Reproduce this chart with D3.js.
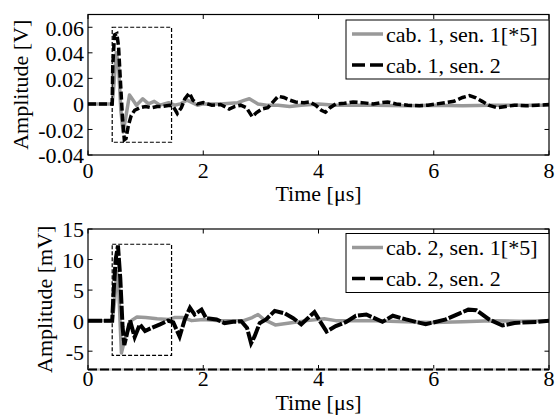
<!DOCTYPE html>
<html>
<head>
<meta charset="utf-8">
<script src="https://cdn.jsdelivr.net/npm/d3@7"></script>
<style>
  body { margin: 0; background: #fff; }
  svg text { font-family: 'Liberation Serif', 'Times New Roman', Tinos, 'DejaVu Serif', serif; font-size: 22px; fill: #000; }
</style>
</head>
<body>
<svg id="chart" width="557" height="418" font-family="Liberation Serif"></svg>
<script>
// time axis
var xTicks = [0, 2, 4, 6, 8];

// top panel (cable 1), amplitude in V
var topYTicks = [-0.04, -0.02, 0, 0.02, 0.04, 0.06];
var topYLabels = ['-0.04', '-0.02', '0', '0.02', '0.04', '0.06'];
var topLegend = ['cab. 1, sen. 1[*5]', 'cab. 1, sen. 2'];
var topZoomBox = [0.42, 1.45, -0.03, 0.06];

var topSen1 = [
  [0, 0], [0.42, 0], [0.45, 0.015], [0.49, 0.04], [0.53, 0.03], [0.57, -0.005],
  [0.61, -0.022], [0.65, -0.012], [0.72, 0.007], [0.78, 0.003], [0.84, -0.001],
  [0.95, 0.004], [1.05, 0], [1.15, 0.002], [1.25, -0.001], [1.4, 0.001],
  [1.5, -0.001], [1.6, 0.0], [1.72, 0.003], [1.9, -0.001], [2.0, 0], [2.3, 0],
  [2.6, 0.001], [2.72, 0.003], [2.8, 0.004], [2.95, 0], [3.1, -0.001],
  [3.3, -0.001], [3.5, -0.002], [3.7, -0.001], [4.0, 0], [4.3, -0.001],
  [5.0, -0.001], [5.5, -0.0015], [6.0, -0.001], [6.5, -0.0015], [7.0, -0.001],
  [7.5, -0.001], [8.0, -0.001]
];

var topSen2 = [
  [0, 0], [0.42, 0], [0.43, 0.03], [0.46, 0.054], [0.5, 0.055], [0.53, 0.045],
  [0.56, 0.02], [0.6, -0.012], [0.63, -0.028], [0.66, -0.027], [0.7, -0.017],
  [0.75, -0.009], [0.81, -0.005], [0.9, -0.003], [1.0, -0.002], [1.1, -0.003],
  [1.2, -0.002], [1.3, -0.002], [1.42, -0.001], [1.48, -0.002], [1.55, -0.0075],
  [1.62, -0.003], [1.68, 0.004], [1.76, 0.0085], [1.82, 0.003], [1.9, 0],
  [2.0, 0.001], [2.15, -0.001], [2.3, -0.0005], [2.45, -0.004], [2.55, -0.002],
  [2.65, -0.001], [2.75, -0.003], [2.85, -0.01], [2.92, -0.007], [3.02, -0.004],
  [3.12, -0.003], [3.22, 0.002], [3.3, 0.006], [3.4, 0.005], [3.5, 0.003],
  [3.6, 0.0015], [3.75, 0.001], [3.85, 0.0015], [3.95, -0.001], [4.05, -0.005],
  [4.12, -0.0065], [4.2, -0.003], [4.3, 0], [4.45, 0.0005], [4.6, 0.0015],
  [4.75, 0.001], [4.95, 0], [5.1, 0.001], [5.2, 0.0015], [5.35, 0],
  [5.55, -0.001], [5.75, -0.0015], [5.9, -0.001], [6.05, 0], [6.2, 0.001],
  [6.35, 0.002], [6.5, 0.005], [6.62, 0.0065], [6.72, 0.005], [6.84, 0.002],
  [6.95, -0.001], [7.1, -0.003], [7.25, -0.002], [7.4, -0.001], [7.6, -0.0015],
  [7.8, -0.001], [8.0, -0.0005]
];

// bottom panel (cable 2), amplitude in mV
var botYTicks = [-5, 0, 5, 10, 15];
var botYLabels = ['-5', '0', '5', '10', '15'];
var botLegend = ['cab. 2, sen. 1[*5]', 'cab. 2, sen. 2'];
var botZoomBox = [0.42, 1.45, -5.7, 12.5];

var botSen1 = [
  [0, 0], [0.42, 0], [0.46, 3], [0.5, 8], [0.53, 6], [0.56, -1], [0.58, -5.3],
  [0.64, -3], [0.75, 0], [0.85, 0.6], [1.0, 0.5], [1.2, 0.3], [1.4, 0.2],
  [1.5, 0.5], [1.65, 0.5], [1.8, 0], [2.0, 0.2], [2.3, 0], [2.7, 0],
  [2.85, 0.5], [2.95, 1.0], [3.05, 0.2], [3.25, -0.7], [3.5, -0.4], [3.8, 0],
  [4.1, 0.3], [4.3, 0], [5.0, 0], [5.5, -0.2], [6.0, -0.3], [6.5, -0.2],
  [7.0, 0], [7.5, -0.1], [8.0, 0]
];

var botSen2 = [
  [0, 0], [0.42, 0], [0.44, 4], [0.48, 10], [0.52, 12.3], [0.56, 7], [0.6, -1],
  [0.63, -4.0], [0.68, -2], [0.73, 0], [0.81, -2.7], [0.9, -0.6], [0.99, -1.7],
  [1.1, -1.2], [1.25, -0.6], [1.39, 0], [1.48, -0.3], [1.59, -2.6], [1.68, 0.2],
  [1.77, 2.1], [1.85, 1.0], [1.97, 1.8], [2.05, 0.4], [2.23, 0.2], [2.37, -0.4],
  [2.52, -0.2], [2.66, -0.1], [2.76, -1.2], [2.83, -3.7], [2.89, -2.6],
  [2.98, -0.4], [3.09, 0.2], [3.24, 1.6], [3.41, 1.2], [3.56, 0.4], [3.7, -0.6],
  [3.93, 1.4], [4.02, 0], [4.14, -1.8], [4.3, -0.9], [4.48, -0.2], [4.65, 0.8],
  [4.83, 1.0], [5.11, -0.2], [5.29, 0.8], [5.52, 0.2], [5.86, -0.6], [6.21, 0.2],
  [6.45, 1.2], [6.6, 1.8], [6.74, 1.7], [6.96, 0.2], [7.19, -0.8], [7.4, -0.4],
  [7.54, -0.3], [7.8, -0.2], [8.0, 0]
];

var grey = '#999999';

var svg = d3.select('#chart');

var drawPanel = function (opts) {
  var left = 88, right = 549;
  var x = d3.scaleLinear().domain([0, 8]).range([left, right]);
  var y = d3.scaleLinear().domain(opts.yDomain).range([opts.bottom, opts.top]);
  var g = svg.append('g');

  g.append('clipPath').attr('id', opts.id + 'clip')
    .append('rect')
    .attr('x', left).attr('y', opts.top)
    .attr('width', right - left).attr('height', opts.bottom - opts.top);

  g.append('rect')
    .attr('x', left).attr('y', opts.top)
    .attr('width', right - left).attr('height', opts.bottom - opts.top)
    .attr('fill', '#fff');

  var line = d3.line()
    .x(function (d) { return x(d[0]); })
    .y(function (d) { return y(d[1]); });

  var plot = g.append('g').attr('clip-path', 'url(#' + opts.id + 'clip)');
  plot.append('path')
    .attr('d', line(opts.sen1))
    .attr('fill', 'none')
    .attr('stroke', grey)
    .attr('stroke-width', 3.5)
    .attr('stroke-linejoin', 'round');
  plot.append('path')
    .attr('d', line(opts.sen2))
    .attr('fill', 'none')
    .attr('stroke', '#000')
    .attr('stroke-width', opts.blackWidth)
    .attr('stroke-dasharray', opts.dash);

  // dashed box around the first arrival
  var zb = opts.zoomBox;
  g.append('rect')
    .attr('x', x(zb[0])).attr('y', y(zb[3]))
    .attr('width', x(zb[1]) - x(zb[0]))
    .attr('height', y(zb[2]) - y(zb[3]))
    .attr('fill', 'none')
    .attr('stroke', '#000')
    .attr('stroke-width', 1.2)
    .attr('stroke-dasharray', '4,2');

  // ticks (inside, on all four sides)
  var tl = 4.5;
  xTicks.forEach(function (t) {
    g.append('line').attr('x1', x(t)).attr('x2', x(t))
      .attr('y1', opts.bottom).attr('y2', opts.bottom - tl)
      .attr('stroke', '#000');
    g.append('line').attr('x1', x(t)).attr('x2', x(t))
      .attr('y1', opts.top).attr('y2', opts.top + tl)
      .attr('stroke', '#000');
    g.append('text')
      .attr('x', x(t)).attr('y', opts.bottom + opts.tickGap)
      .attr('text-anchor', 'middle')
      .text(t);
  });
  opts.yTicks.forEach(function (v, i) {
    g.append('line').attr('x1', left).attr('x2', left + tl)
      .attr('y1', y(v)).attr('y2', y(v))
      .attr('stroke', '#000');
    g.append('line').attr('x1', right).attr('x2', right - tl)
      .attr('y1', y(v)).attr('y2', y(v))
      .attr('stroke', '#000');
    g.append('text')
      .attr('x', left - 4).attr('y', y(v)).attr('dy', '0.38em')
      .attr('text-anchor', 'end')
      .text(opts.yLabels[i]);
  });

  // axes box
  g.append('rect')
    .attr('x', left).attr('y', opts.top)
    .attr('width', right - left).attr('height', opts.bottom - opts.top)
    .attr('fill', 'none')
    .attr('stroke', '#000')
    .attr('stroke-width', 1.2);
  if (opts.dashedBase) {
    g.append('line')
      .attr('x1', left).attr('x2', right)
      .attr('y1', opts.bottom).attr('y2', opts.bottom)
      .attr('stroke', '#bbb').attr('stroke-width', 2);
    g.append('line')
      .attr('x1', left).attr('x2', right)
      .attr('y1', opts.bottom).attr('y2', opts.bottom)
      .attr('stroke', '#000').attr('stroke-width', 2)
      .attr('stroke-dasharray', '9,3');
  }

  g.append('text')
    .attr('x', (left + right) / 2).attr('y', opts.bottom + opts.labelGap)
    .attr('text-anchor', 'middle')
    .text('Time [\u03bcs]');

  g.append('text')
    .attr('transform', 'translate(' + opts.yLabelX + ',' + (opts.top + opts.bottom) / 2 + ') rotate(-90)')
    .attr('text-anchor', 'middle')
    .text(opts.yTitle);

  // legend
  var lg = g.append('g');
  lg.append('rect')
    .attr('x', 346).attr('y', opts.legendTop)
    .attr('width', right - 346).attr('height', 59)
    .attr('fill', '#fff')
    .attr('stroke', '#000')
    .attr('stroke-width', 1);
  opts.legend.forEach(function (name, i) {
    var ly = opts.legendTop + 14 + i * 31;
    lg.append('line')
      .attr('x1', 352).attr('x2', 383)
      .attr('y1', ly).attr('y2', ly)
      .attr('stroke', i === 0 ? grey : '#000')
      .attr('stroke-width', 3.5)
      .attr('stroke-dasharray', i === 0 ? null : '13,5');
    lg.append('text')
      .attr('x', 386).attr('y', ly).attr('dy', '0.36em')
      .text(name);
  });
};

drawPanel({
  id: 'top', top: 14.5, bottom: 155, yDomain: [-0.04, 0.07],
  yTicks: topYTicks, yLabels: topYLabels, yTitle: 'Amplitude [V]', yLabelX: 28,
  sen1: topSen1, sen2: topSen2, zoomBox: topZoomBox,
  legend: topLegend, legendTop: 20, blackWidth: 3.5, dash: '8,3',
  tickGap: 23, labelGap: 45.5
});

drawPanel({
  id: 'bot', top: 229, bottom: 369.5, yDomain: [-8, 15],
  yTicks: botYTicks, yLabels: botYLabels, yTitle: 'Amplitude [mV]', yLabelX: 52,
  sen1: botSen1, sen2: botSen2, zoomBox: botZoomBox,
  legend: botLegend, legendTop: 233.5, blackWidth: 4, dash: '14,2',
  dashedBase: true, tickGap: 16, labelGap: 40.5
});
</script>
</body>
</html>
